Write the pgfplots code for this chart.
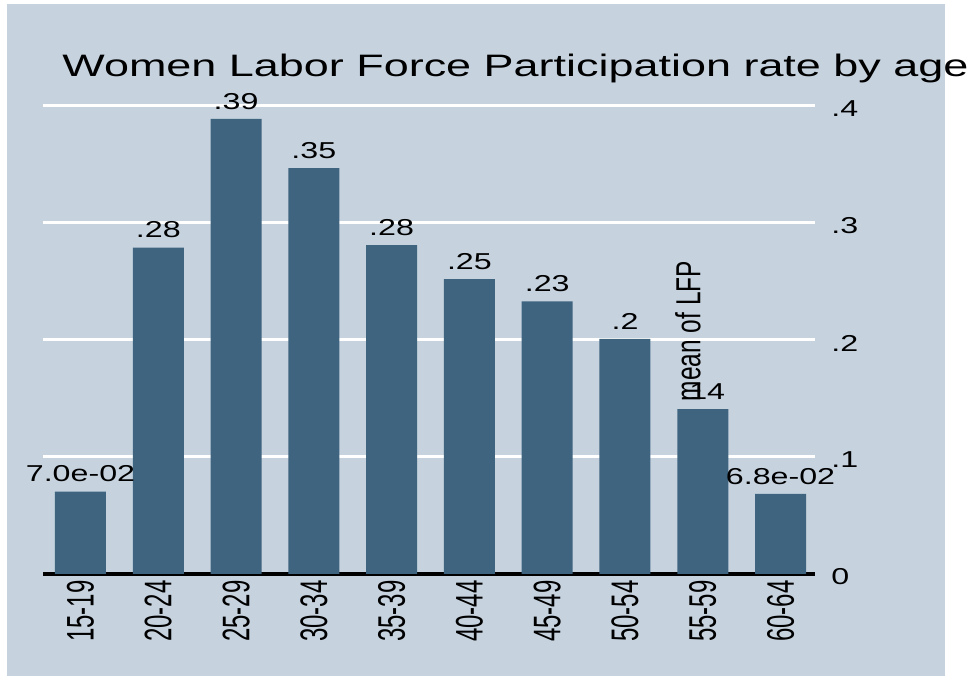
\documentclass[border=0pt]{standalone}
\usepackage{pgfplots}
\pgfplotsset{compat=1.18}
\usepackage{graphicx}
\usepackage{fontspec}
\setmainfont{Liberation Sans}
\definecolor{bgcol}{RGB}{198,211,223}
\definecolor{barcol}{RGB}{62,100,127}
\newcommand\xl[1]{\scalebox{1.6}[1]{\rotatebox{90}{#1}}}
\newcommand\yl[1]{\scalebox{1.4}[1]{#1}}
\begin{document}
\begin{tikzpicture}
\useasboundingbox (0,0) rectangle (486.5pt,341.5pt);
\fill[white] (0,0) rectangle (486.5pt,341.5pt);
\fill[bgcol] (3.5pt,3.5pt) rectangle (472.5pt,339.5pt);
\begin{axis}[
  at={(21.5pt,54.5pt)}, anchor=south west,
  scale only axis, width=386pt, height=234pt,
  xmin=-0.482, xmax=9.443, ymin=0, ymax=0.4,
  clip=false,
  axis x line=bottom, axis y line=right,
  x axis line style={black, line width=1.8pt, -},
  y axis line style={draw=none, -},
  major tick length=0pt,
  xtick={0,1,2,3,4,5,6,7,8,9},
  xticklabels={\xl{15-19},\xl{20-24},\xl{25-29},\xl{30-34},\xl{35-39},\xl{40-44},\xl{45-49},\xl{50-54},\xl{55-59},\xl{60-64}},
  xticklabel style={anchor=north, inner sep=0pt, yshift=-3pt, font=\fontsize{12}{14}\selectfont},
  ytick={0,0.1,0.2,0.3,0.4},
  yticklabels={\yl{0},\yl{.1},\yl{.2},\yl{.3},\yl{.4}},
  yticklabel style={anchor=west, inner sep=0pt, xshift=8pt, yshift=-1.5pt, font=\fontsize{11.5}{13}\selectfont},
  ymajorgrids, grid style={white, line width=1.5pt},
  ybar, bar width=25.5pt,
  nodes near coords={\scalebox{1.4}[1]{\pgfplotspointmeta}},
  point meta=explicit symbolic,
  nodes near coords style={anchor=south, inner sep=0pt, yshift=4.5pt, font=\fontsize{11.5}{13}\selectfont, black},
]
\addplot[fill=barcol, draw=none] coordinates {
  (0,0.0705) [7.0e-02]
  (1,0.279) [.28]
  (2,0.389) [.39]
  (3,0.347) [.35]
  (4,0.281) [.28]
  (5,0.252) [.25]
  (6,0.233) [.23]
  (7,0.201) [.2]
  (8,0.141) [.14]
  (9,0.0685) [6.8e-02]
};
\node[rotate=90, font=\fontsize{12}{14}\selectfont, inner sep=0pt] at (rel axis cs:0.8355,0.519) {\scalebox{1.02}[1.45]{mean of LFP}};
\end{axis}
\node[anchor=base west, inner sep=0pt, font=\fontsize{15.5}{18}\selectfont] at (31pt,303pt) {\scalebox{1.45}[1]{Women Labor Force Participation rate by age}};
\end{tikzpicture}
\end{document}
